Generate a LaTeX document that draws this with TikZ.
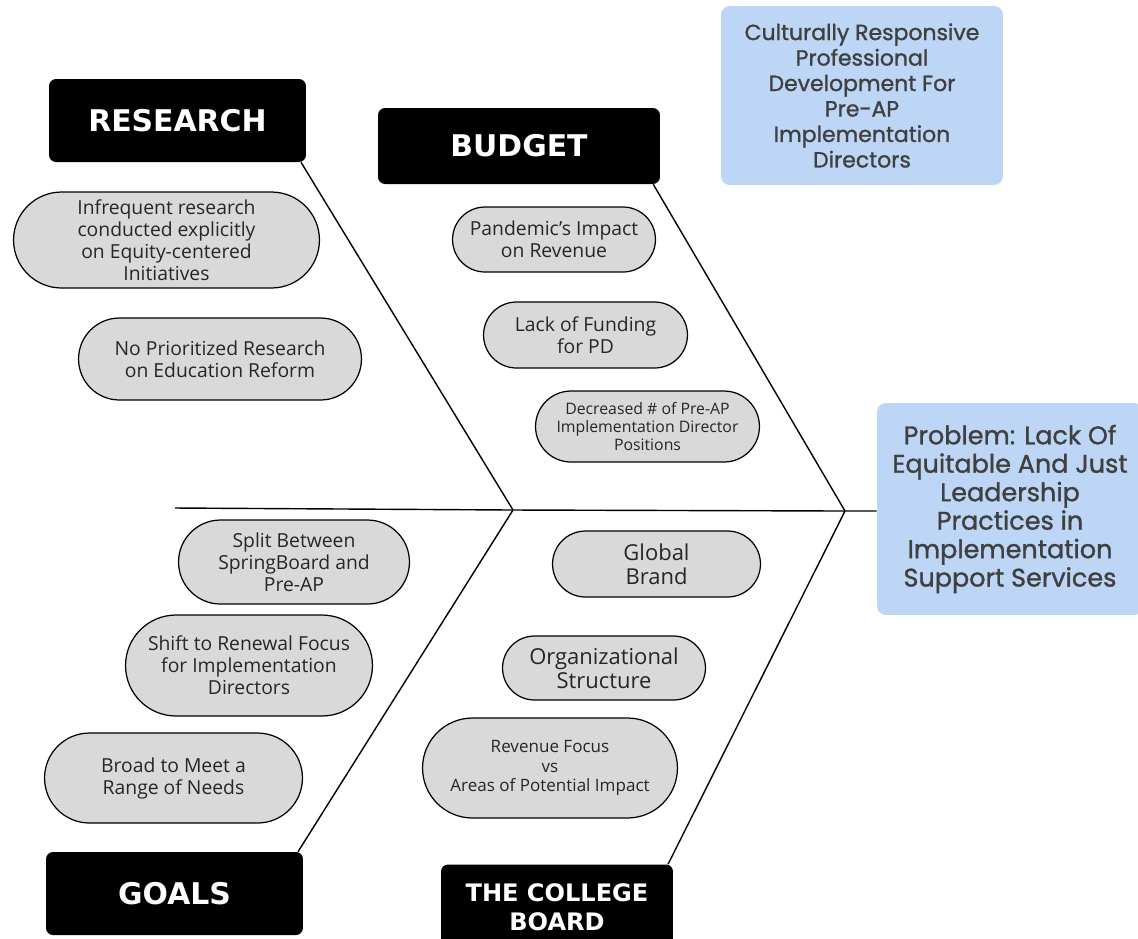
\documentclass[tikz,border=0pt]{standalone}
\usepackage{fontspec}
\setmainfont{Open Sans}
\newfontfamily\headfont{DejaVu Sans}
\newfontfamily\titlefont{Poppins}[FakeBold=1.2]
\usetikzlibrary{shapes.misc}
\definecolor{boxblue}{RGB}{189,214,245}
\definecolor{pillgray}{RGB}{217,217,217}

\begin{document}
\begin{tikzpicture}[
        x=0.02cm, y=-0.02cm,
        head/.style={rectangle, fill=black, rounded corners=4pt, text=white, align=center, font=\headfont\bfseries\fontsize{17}{20}\selectfont},
        cause/.style={rounded rectangle, draw, line width=0.7pt, fill=pillgray, align=center, inner sep=2pt, text=black!85, font=\fontsize{11}{12.5}\selectfont},
        topic/.style={rectangle, fill=boxblue, rounded corners=5pt, align=center, text=black!75},
        bone/.style={line width=0.8pt}
    ]
        \useasboundingbox (0,0) rectangle (1138,938);

        % Effect and topic
        \node[topic, minimum width=5.64cm, minimum height=3.58cm, font=\titlefont\fontsize{12.5}{14.5}\selectfont] (topic) at (862,95.5) {
            Culturally Responsive\\ Professional\\ Development For\\ Pre-AP\\ Implementation\\ Directors
        };
        \node[topic, minimum width=5.32cm, minimum height=4.24cm, font=\titlefont\fontsize{14.5}{16.2}\selectfont] (problem) at (1010,509) {
            Problem: Lack Of\\ Equitable And Just\\ Leadership\\ Practices in\\ Implementation\\ Support Services
        };

        % Categories
        \node[head, minimum width=5.14cm, minimum height=1.66cm] (research) at (177.5,120.5) {RESEARCH};
        \node[head, minimum width=5.64cm, minimum height=1.52cm] (budget) at (519,146) {BUDGET};
        \node[head, minimum width=5.14cm, minimum height=1.66cm] (goals) at (174.5,893.5) {GOALS};
        \node[head, minimum width=4.64cm, minimum height=1.70cm, font=\headfont\bfseries\fontsize{13.7}{16.5}\selectfont] (college) at (557,907) {THE COLLEGE\\ BOARD};

        % Spine and bones
        \coordinate (tail) at (175,508);
        \coordinate (jointA) at (513,510);
        \coordinate (jointB) at (845,511);
        \draw[bone] (tail) -- (jointA) -- (jointB) -- (problem.west |- jointB);
        \draw[bone] ([xshift=-3pt]research.south east) -- (jointA);
        \draw[bone] ([xshift=-4pt]budget.south east) -- (jointB);
        \draw[bone] (jointA) -- ([xshift=-3pt]goals.north east);
        \draw[bone] (jointB) -- ([xshift=-3pt]college.north east);

        % Research causes
        \node[cause, minimum width=6.26cm, minimum height=1.92cm] (infrequent) at (166.5,240) {Infrequent research\\ conducted explicitly\\ on Equity-centered\\ Initiatives};
        \node[cause, minimum width=5.8cm, minimum height=1.64cm] (noprior) at (220,359) {No Prioritized Research\\ on Education Reform};

        % Budget causes
        \node[cause, minimum width=4.2cm, minimum height=1.3cm] (pandemic) at (554,239.5) {Pandemic's Impact\\ on Revenue};
        \node[cause, minimum width=4.22cm, minimum height=1.32cm] (funding) at (585.5,335) {Lack of Funding\\ for PD};
        \node[cause, minimum width=4.62cm, minimum height=1.42cm, font=\fontsize{9}{10.3}\selectfont] (decreased) at (647.5,426.5) {Decreased \# of Pre-AP\\ Implementation Director\\ Positions};

        % Goals causes
        \node[cause, minimum width=4.76cm, minimum height=1.68cm] (split) at (294,562) {Split Between\\ SpringBoard and\\ Pre-AP};
        \node[cause, minimum width=5.08cm, minimum height=2.02cm] (shift) at (249,665.5) {Shift to Renewal Focus\\ for Implementation\\ Directors};
        \node[cause, minimum width=5.3cm, minimum height=1.8cm] (broad) at (173.5,778) {Broad to Meet a\\ Range of Needs};

        % College Board causes
        \node[cause, minimum width=4.3cm, minimum height=1.32cm, font=\fontsize{12.5}{13.7}\selectfont] (brand) at (656.5,564) {Global\\ Brand};
        \node[cause, minimum width=4.2cm, minimum height=1.28cm, font=\fontsize{12.5}{13.7}\selectfont] (structure) at (604,668) {Organizational\\ Structure};
        \node[cause, minimum width=5.24cm, minimum height=2.0cm, font=\fontsize{9.7}{11}\selectfont] (revenue) at (550,768) {Revenue Focus\\ vs\\ Areas of Potential Impact};
    \end{tikzpicture}
\end{document}
